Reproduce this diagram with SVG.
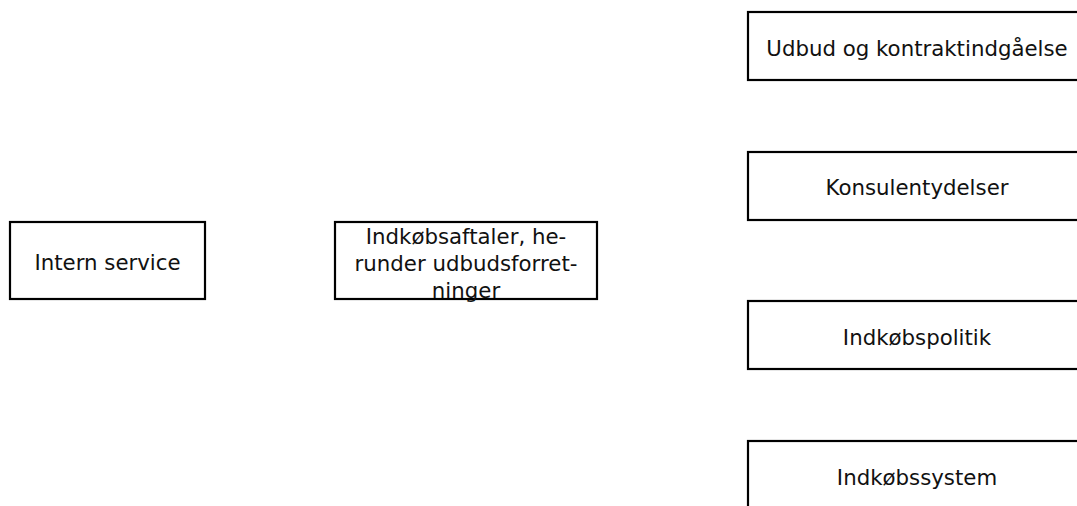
<svg xmlns="http://www.w3.org/2000/svg" width="1077" height="506" viewBox="0 0 1077 506">
  <style>
    .box { fill: #ffffff; stroke: #000000; stroke-width: 2.2; }
    .label { font-family: "DejaVu Sans", Verdana, sans-serif; font-size: 21.3px; fill: #111111; text-anchor: middle; }
  </style>
  <rect width="1077" height="506" fill="#ffffff"/>
  <g id="connectors"></g>
  <g id="node-intern-service">
    <rect class="box" x="10" y="222" width="195" height="77"/>
    <text class="label" x="107.5" y="270">Intern service</text>
  </g>
  <g id="node-indkoebsaftaler">
    <rect class="box" x="335" y="222" width="262" height="77"/>
    <text class="label" x="466" y="244">Indkøbsaftaler, he-</text>
    <text class="label" x="466" y="271">runder udbudsforret-</text>
    <text class="label" x="466" y="298">ninger</text>
  </g>
  <g id="node-udbud">
    <rect class="box" x="748" y="12" width="338" height="68"/>
    <text class="label" x="917" y="55.5">Udbud og kontraktindgåelse</text>
  </g>
  <g id="node-konsulentydelser">
    <rect class="box" x="748" y="152" width="338" height="68"/>
    <text class="label" x="917" y="195">Konsulentydelser</text>
  </g>
  <g id="node-indkoebspolitik">
    <rect class="box" x="748" y="301" width="338" height="68"/>
    <text class="label" x="917" y="345">Indkøbspolitik</text>
  </g>
  <g id="node-indkoebssystem">
    <rect class="box" x="748" y="441" width="338" height="68"/>
    <text class="label" x="917" y="485">Indkøbssystem</text>
  </g>
</svg>
